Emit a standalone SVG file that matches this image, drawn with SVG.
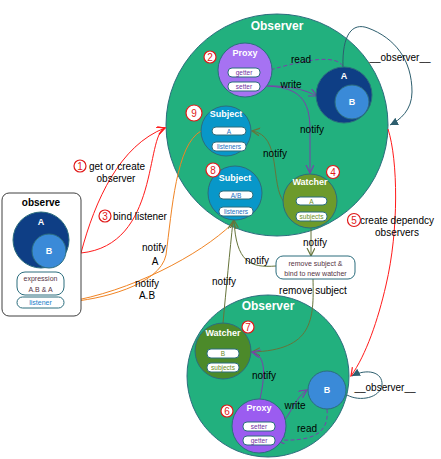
<svg xmlns="http://www.w3.org/2000/svg" width="441" height="459" viewBox="0 0 441 459">
<style>
text{font-family:"Liberation Sans",Arial,sans-serif}
.lbl{font-size:10px;fill:#000;text-anchor:middle;dominant-baseline:central}
.ttl{font-size:12px;font-weight:bold;fill:#fff;text-anchor:middle;dominant-baseline:central}
.nt{font-size:9px;font-weight:bold;fill:#fff;text-anchor:middle;dominant-baseline:central}
.pill{fill:#fff;stroke:#2b6d7d;stroke-width:1}
.pt{font-size:6.5px;text-anchor:middle;dominant-baseline:central}
.num{fill:#fff;stroke:#e01818;stroke-width:1.2}
.numt{font-size:10px;fill:#e01818;text-anchor:middle;dominant-baseline:central}
.cs{stroke:#2b6d7d;stroke-width:1}
.ln{fill:none;stroke-width:1}
.red{stroke:#ff1a1a}
.org{stroke:#f08424}
.olv{stroke:#66743a}
.pur{stroke:#7b40ab}
.tel{stroke:#2d5e6e}
</style>
<defs>
<marker id="ar" markerWidth="10" markerHeight="10" refX="8" refY="4" orient="auto" markerUnits="userSpaceOnUse"><path d="M0,0 L8,4 L0,8" fill="none" stroke="#ff1a1a" stroke-width="1.2"/></marker>
<marker id="ao" markerWidth="10" markerHeight="10" refX="8" refY="4" orient="auto" markerUnits="userSpaceOnUse"><path d="M0,0 L8,4 L0,8" fill="none" stroke="#f08424" stroke-width="1.2"/></marker>
<marker id="av" markerWidth="10" markerHeight="10" refX="8" refY="4" orient="auto" markerUnits="userSpaceOnUse"><path d="M0,0 L8,4 L0,8" fill="none" stroke="#66743a" stroke-width="1.2"/></marker>
<marker id="ap" markerWidth="10" markerHeight="10" refX="8" refY="4" orient="auto" markerUnits="userSpaceOnUse"><path d="M0,0 L8,4 L0,8" fill="none" stroke="#7b40ab" stroke-width="1.2"/></marker>
<marker id="at" markerWidth="10" markerHeight="10" refX="8" refY="4" orient="auto" markerUnits="userSpaceOnUse"><path d="M0,0 L8,4 L0,8 Z" fill="#2d5e6e"/></marker>
</defs>
<rect width="441" height="459" fill="#fff"/>

<g id="observer-top">
<circle cx="277" cy="125" r="111" fill="#22b07e" class="cs"/>
<text class="ttl" x="277" y="26">Observer</text>
</g>
<g id="observer-bottom">
<circle cx="268" cy="376" r="81" fill="#22b07e" class="cs"/>
<text class="ttl" x="268" y="306">Observer</text>
</g>

<g id="connectors">
<path class="ln red" d="M81,253 C95,200 120,145 165,128" marker-end="url(#ar)"/>
<path class="ln red" d="M81,253 C160,245 145,135 165,128" marker-end="url(#ar)"/>
<path class="ln red" d="M388,129 C398,160 399,230 386,285 C378,320 366,355 351,376" marker-end="url(#ar)"/>
<path class="ln org" d="M201,131 C176,145 172,210 166,255 C160,285 100,300 66,302" marker-end="url(#ao)"/>
<path class="ln org" d="M232,224 C200,255 130,292 66,302" marker-end="url(#ao)"/>
<path class="ln pur" d="M260,86 C290,85 305,90 317,96" marker-end="url(#ap)"/>
<path class="ln pur" d="M262,86 C300,86 310,100 310,130 L310,173" marker-end="url(#ap)"/>
<path class="ln pur" d="M343,66 C335,55 310,58 263,72" stroke-dasharray="4,2.5" marker-end="url(#ap)"/>
<path class="ln tel" d="M343,67 C342,35 352,22 368,28 C395,38 412,60 412,92 C412,110 400,120 390,125" marker-end="url(#at)"/>
<path class="ln olv" d="M284,202 C270,185 282,135 252,131" marker-end="url(#av)"/>
<path class="ln olv" d="M311,228 L311,256" marker-end="url(#av)"/>
<path class="ln olv" d="M276,266 C250,268 236,262 234,220" marker-end="url(#av)"/>
<path class="ln olv" d="M223,323 C226,290 230,250 233,221" marker-end="url(#av)"/>
<path class="ln olv" d="M313,279 C314,320 313,350 252,352" marker-end="url(#av)"/>
<path class="ln pur" d="M275,426 C290,422 292,400 307,390" marker-end="url(#ap)"/>
<path class="ln pur" d="M327,409 C330,438 305,441 277,440" stroke-dasharray="4,2.5" marker-end="url(#ap)"/>
<path class="ln pur" d="M260,399 C264,380 268,356 252,352" marker-end="url(#ap)"/>
<path class="ln tel" d="M347,395 C360,402 380,398 382,385 C383,372 367,368 352,376" marker-end="url(#at)"/>
</g>

<g id="labels">
<text class="lbl" x="301" y="59">read</text>
<text class="lbl" x="291" y="84">write</text>
<text class="lbl" x="312" y="129">notify</text>
<text class="lbl" x="400" y="57">__observer__</text>
<text class="lbl" x="275" y="153">notify</text>
<text class="lbl" x="315" y="242">notify</text>
<text class="lbl" x="257" y="260">notify</text>
<text class="lbl" x="224" y="281">notify</text>
<text class="lbl" x="313" y="290">remove subject</text>
<text class="lbl" x="264" y="375">notify</text>
<text class="lbl" x="295" y="405">write</text>
<text class="lbl" x="307" y="428">read</text>
<text class="lbl" x="385" y="387">__observer__</text>
<text class="lbl" x="117" y="166">get or create</text>
<text class="lbl" x="116" y="178">observer</text>
<text class="lbl" x="140" y="216">bind listener</text>
<text class="lbl" x="154" y="247">notify</text>
<text class="lbl" x="155" y="261">A</text>
<text class="lbl" x="147" y="283">notify</text>
<text class="lbl" x="147" y="295">A.B</text>
<text class="lbl" x="397" y="220">create dependcy</text>
<text class="lbl" x="397" y="232">observers</text>
<circle class="num" cx="80" cy="166" r="6"/><text class="numt" x="80" y="166">1</text>
<circle class="num" cx="105" cy="216" r="6"/><text class="numt" x="105" y="216">3</text>
<circle class="num" cx="354" cy="220" r="6.5"/><text class="numt" x="354" y="220">5</text>
</g>

<g id="proxy-top">
<circle cx="245" cy="70" r="27" fill="#a672f2" class="cs"/>
<text class="nt" x="245" y="53">Proxy</text>
<rect class="pill" x="228" y="68" width="32" height="9" rx="4"/><text class="pt" x="244" y="72.5" fill="#7030a0">getter</text>
<rect class="pill" x="228" y="82" width="32" height="9" rx="4"/><text class="pt" x="244" y="86.5" fill="#7030a0">setter</text>
<circle class="num" cx="210" cy="57" r="6"/><text class="numt" x="210" y="57">2</text>
</g>

<g id="obj-a">
<circle cx="344" cy="95" r="28" fill="#0e3e85" class="cs"/>
<text class="nt" x="344" y="76">A</text>
<circle cx="352" cy="102" r="17" fill="#3a8ad8" class="cs"/>
<text class="nt" x="352" y="102">B</text>
</g>

<g id="subject-9">
<circle cx="226" cy="131" r="25" fill="#0897c9" class="cs"/>
<text class="nt" x="226" y="114">Subject</text>
<rect class="pill" x="212" y="127" width="34" height="8" rx="4"/><text class="pt" x="229" y="131" fill="#1a70c0">A</text>
<rect class="pill" x="212" y="142" width="34" height="9" rx="4"/><text class="pt" x="229" y="146.5" fill="#1a70c0">listeners</text>
<circle class="num" cx="194" cy="113" r="8"/><text class="numt" x="194" y="113">9</text>
</g>

<g id="subject-8">
<circle cx="235" cy="193" r="27" fill="#0897c9" class="cs"/>
<text class="nt" x="235" y="178">Subject</text>
<rect class="pill" x="219" y="191" width="34" height="8" rx="4"/><text class="pt" x="236" y="195" fill="#1a70c0">A/B</text>
<rect class="pill" x="219" y="207" width="34" height="9" rx="4"/><text class="pt" x="236" y="211.5" fill="#1a70c0">listeners</text>
<circle class="num" cx="213" cy="170" r="7"/><text class="numt" x="213" y="170">8</text>
</g>

<g id="watcher-4">
<circle cx="310" cy="201" r="27" fill="#6d9a2b" class="cs"/>
<text class="nt" x="310" y="182">Watcher</text>
<rect class="pill" x="296" y="197" width="31" height="8" rx="4"/><text class="pt" x="311.5" y="201" fill="#6b8e23">A</text>
<rect class="pill" x="296" y="212" width="31" height="9" rx="4"/><text class="pt" x="311.5" y="216.5" fill="#6b8e23">subjects</text>
<circle class="num" cx="333" cy="172" r="6.5"/><text class="numt" x="333" y="172">4</text>
</g>

<g id="remove-box">
<rect x="276" y="256" width="79" height="23" rx="7" fill="#fff" stroke="#2b6d7d"/>
<text class="pt" x="315.5" y="263.5" fill="#553344" style="font-size:7px">remove subject &amp;</text>
<text class="pt" x="315.5" y="273" fill="#553344" style="font-size:7px">bind to new watcher</text>
</g>

<g id="observe">
<rect x="2" y="193" width="79" height="123" rx="7" fill="#fff" stroke="#404040"/>
<text x="41" y="202" style="font-size:10px;font-weight:bold;text-anchor:middle;dominant-baseline:central">observe</text>
<circle cx="41" cy="240" r="28" fill="#0e3e85" class="cs"/>
<text class="nt" x="41" y="222">A</text>
<circle cx="49" cy="251" r="17" fill="#3a8ad8" class="cs"/>
<text class="nt" x="49" y="251">B</text>
<rect x="17" y="272" width="47" height="23" rx="8" fill="#fff" stroke="#2b6d7d"/>
<text class="pt" x="40.5" y="278.5" fill="#553344" style="font-size:7px">expression</text>
<text class="pt" x="40.5" y="289" fill="#553344" style="font-size:7px">A.B &amp; A</text>
<rect x="17" y="297" width="47" height="11" rx="5.5" fill="#fff" stroke="#2b6d7d"/>
<text class="pt" x="40.5" y="302.5" fill="#1a7ec8" style="font-size:7px">listener</text>
</g>

<g id="watcher-7">
<circle cx="223" cy="351" r="28" fill="#4c8a2a" class="cs"/>
<text class="nt" x="223" y="333">Watcher</text>
<rect class="pill" x="207" y="349" width="32" height="9" rx="4"/><text class="pt" x="223" y="353.5" fill="#6b8e23">B</text>
<rect class="pill" x="207" y="363" width="32" height="9" rx="4"/><text class="pt" x="223" y="367.5" fill="#6b8e23">subjects</text>
<circle class="num" cx="248" cy="327" r="6"/><text class="numt" x="248" y="327">7</text>
</g>

<g id="obj-b">
<circle cx="327" cy="390" r="19" fill="#3a8ad8" class="cs"/>
<text class="nt" x="327" y="390">B</text>
</g>

<g id="proxy-6">
<circle cx="259" cy="426" r="27" fill="#9b5cf0" class="cs"/>
<text class="nt" x="259" y="408">Proxy</text>
<rect class="pill" x="243" y="422" width="32" height="9" rx="4"/><text class="pt" x="259" y="426.5" fill="#7030a0">setter</text>
<rect class="pill" x="243" y="436" width="32" height="9" rx="4"/><text class="pt" x="259" y="440.5" fill="#7030a0">getter</text>
<circle class="num" cx="227" cy="411" r="6"/><text class="numt" x="227" y="411">6</text>
</g>
</svg>
